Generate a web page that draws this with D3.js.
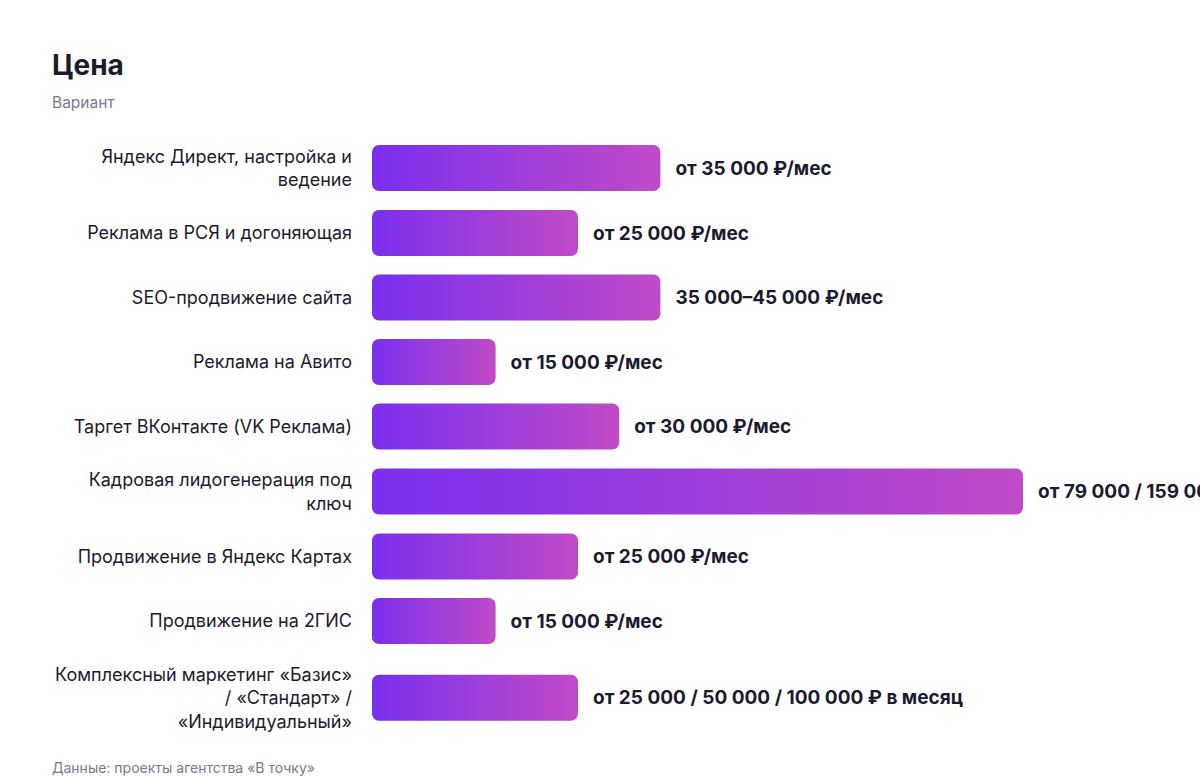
<!DOCTYPE html>
<html><head><meta charset="utf-8">
<script src="https://cdn.jsdelivr.net/npm/d3@7"></script>
<style>
html,body{margin:0;padding:0;background:#fff;}
svg{display:block;font-family:Inter,"Liberation Sans",Arial,sans-serif;}
</style></head>
<body><svg id="chart" width="1200" height="776"></svg>
<script>
const title = "Цена";
const subtitle = "Вариант";
const source = "Данные: проекты агентства «В точку»";
// "\n" marks the line breaks of the category labels, as in the reference
const categories = [
  "Яндекс Директ, настройка и\nведение",
  "Реклама в РСЯ и догоняющая",
  "SEO-продвижение сайта",
  "Реклама на Авито",
  "Таргет ВКонтакте (VK Реклама)",
  "Кадровая лидогенерация под\nключ",
  "Продвижение в Яндекс Картах",
  "Продвижение на 2ГИС",
  "Комплексный маркетинг «Базис»\n/ «Стандарт» /\n«Индивидуальный»"
];
const values = [35000, 25000, 35000, 15000, 30000, 79000, 25000, 15000, 25000];
const valueLabels = [
  "от 35 000 ₽/мес",
  "от 25 000 ₽/мес",
  "35 000–45 000 ₽/мес",
  "от 15 000 ₽/мес",
  "от 30 000 ₽/мес",
  "от 79 000 / 159 000 ₽/мес",
  "от 25 000 ₽/мес",
  "от 15 000 ₽/мес",
  "от 25 000 / 50 000 / 100 000 ₽ в месяц"
];

const svg = d3.select("#chart");
const ink = "#1c1b2e", grey = "#7a7889";
const x0 = 372, labelRight = 352;
const barH = 46, lineH = 23.5, gap = 18.5;

const defs = svg.append("defs");
const grad = defs.append("linearGradient").attr("id","barGrad")
  .attr("x1","0%").attr("x2","100%").attr("y1","0%").attr("y2","0%");
grad.append("stop").attr("offset","0%").attr("stop-color","#7a2fee");
grad.append("stop").attr("offset","100%").attr("stop-color","#c04bc7");

svg.append("text").attr("x",52).attr("y",75).attr("fill",ink)
  .attr("font-size",28).attr("font-weight","bold").text(title);
svg.append("text").attr("x",52).attr("y",108).attr("fill",grey)
  .attr("font-size",15.5).text(subtitle);
svg.append("text").attr("x",52).attr("y",773).attr("fill",grey)
  .attr("font-size",14).text(source);

const x = d3.scaleLinear().domain([0, 79000]).range([0, 651]);

let yCursor = 135.25;
const rows = categories.map((cat,i) => {
  const lines = cat.split("\n");
  const h = Math.max(barH, lines.length*lineH) + gap;
  const c = yCursor + h/2;
  yCursor += h;
  return {lines, c, v: values[i], label: valueLabels[i]};
});

const g = svg.append("g");
rows.forEach(r => {
  g.append("rect").attr("x", x0).attr("y", r.c - barH/2)
    .attr("width", x(r.v)).attr("height", barH)
    .attr("rx", 7).attr("ry", 7).attr("fill","url(#barGrad)");
  g.append("text").attr("x", x0 + x(r.v) + 15).attr("y", r.c)
    .attr("dy","0.35em").attr("fill",ink).attr("font-size",19)
    .attr("font-weight","bold").text(r.label);
  const t = g.append("text").attr("text-anchor","end").attr("fill",ink).attr("font-size",18);
  const n = r.lines.length;
  r.lines.forEach((ln,k) => {
    t.append("tspan").attr("x", labelRight)
      .attr("y", r.c + (k - (n-1)/2)*lineH).attr("dy","0.35em").text(ln);
  });
});
</script></body></html>
